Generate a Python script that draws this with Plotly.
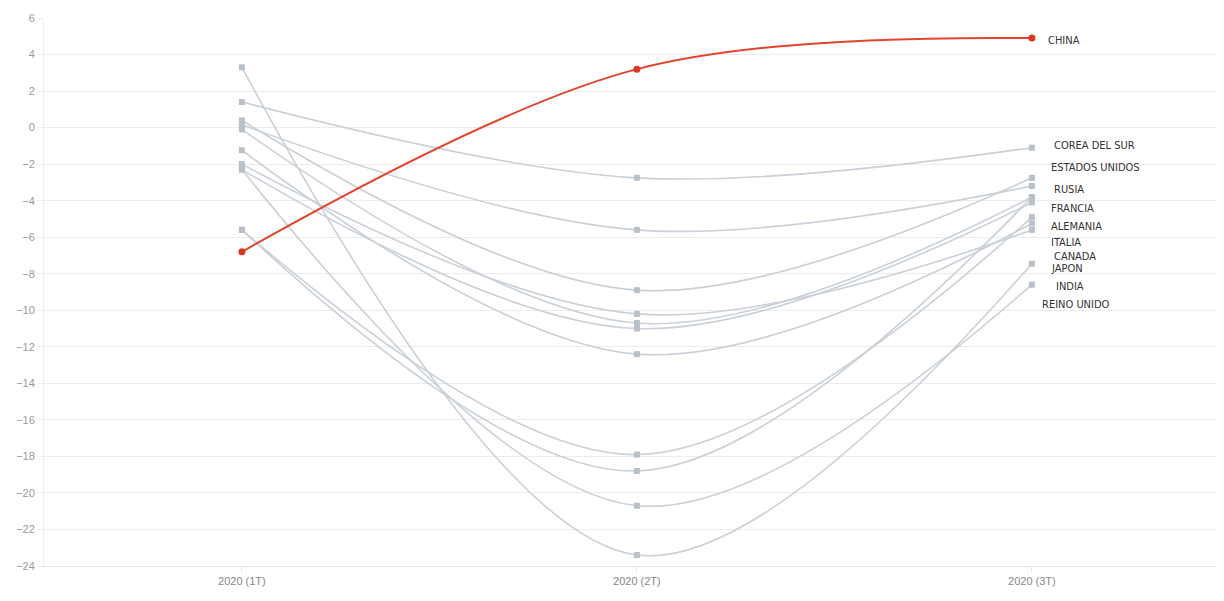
import plotly.graph_objects as go

quarters = ["2020 (1T)", "2020 (2T)", "2020 (3T)"]

countries = ["CHINA", "COREA DEL SUR", "ESTADOS UNIDOS", "RUSIA", "BRASIL", "FRANCIA",
             "ALEMANIA", "ITALIA", "CANADA", "JAPON", "INDIA", "REINO UNIDO"]

china = [-6.8, 3.2, 4.9]
corea = [1.4, -2.75, -1.1]
eeuu = [0.4, -8.9, -2.75]
rusia = [0.15, -5.6, -3.2]
brasil = [-0.1, -10.7, -3.8]
francia = [-5.6, -18.8, -3.8]
alemania = [-2.3, -11.0, -4.1]
italia = [-5.6, -17.9, -4.9]
canada = [-1.24, -12.4, -5.25]
japon = [-2.0, -10.2, -5.6]
india = [3.3, -23.4, -7.45]
reino_unido = [-2.3, -20.7, -8.6]

series = [china, corea, eeuu, rusia, brasil, francia, alemania, italia, canada, japon, india, reino_unido]

# label layout (data-unit y positions after de-overlap), None = hidden label
label_y = [4.76, -0.99, -2.19, -3.39, None, -4.43, -5.42, -6.29, -7.06, -7.72, -8.70, -9.69]
label_dx = [14, 20, 17, 20, 0, 17, 17, 17, 20, 17, 22, 8]

xpos = [0, 1, 2]
fig = go.Figure()

for name, vals in zip(countries, series):
    if name == "CHINA":
        continue
    fig.add_trace(go.Scatter(
        x=xpos, y=vals, mode="lines+markers", name=name,
        line=dict(color="#c9d0d7", width=1.6, shape="spline", smoothing=1.0),
        marker=dict(symbol="square", size=6, color="#b9c0c8"),
        showlegend=False, hoverinfo="name+y"))

fig.add_trace(go.Scatter(
    x=xpos, y=china, mode="lines+markers", name="CHINA",
    line=dict(color="#e0452d", width=2, shape="spline", smoothing=1.0),
    marker=dict(symbol="circle", size=7, color="#d9371f"),
    showlegend=False, hoverinfo="name+y"))

for name, vals, ly, dx in zip(countries, series, label_y, label_dx):
    if ly is None:
        continue
    fig.add_annotation(x=2, y=ly, text=name, showarrow=False, xanchor="left",
                       yanchor="middle", xshift=dx,
                       font=dict(family="Liberation Sans Narrow, Arial Narrow, DejaVu Sans Condensed, sans-serif",
                                 size=11, color="#333333"))

fig.update_layout(
    width=1224, height=601,
    margin=dict(l=36, r=3, t=10, b=43),
    plot_bgcolor="white", paper_bgcolor="white",
    xaxis=dict(range=[-0.501, 2.499], tickvals=xpos, ticktext=quarters, automargin=False,
               showgrid=False, zeroline=False, showline=True, linecolor="#e6e6e6",
               ticks="outside", ticklen=5, tickcolor="#e6e6e6",
               tickfont=dict(family="Liberation Sans Narrow, Arial Narrow, sans-serif", size=11, color="#888888")),
    yaxis=dict(range=[-24, 6], dtick=2, tick0=0, showgrid=True, gridcolor="#ececec", automargin=False,
               zeroline=False, showline=True, linecolor="#eeeeee",
               ticks="outside", ticklen=6, tickcolor="#eeeeee",
               tickfont=dict(family="Liberation Sans Narrow, Arial Narrow, sans-serif", size=11, color="#999999")),
)

fig.write_html("out.html")
